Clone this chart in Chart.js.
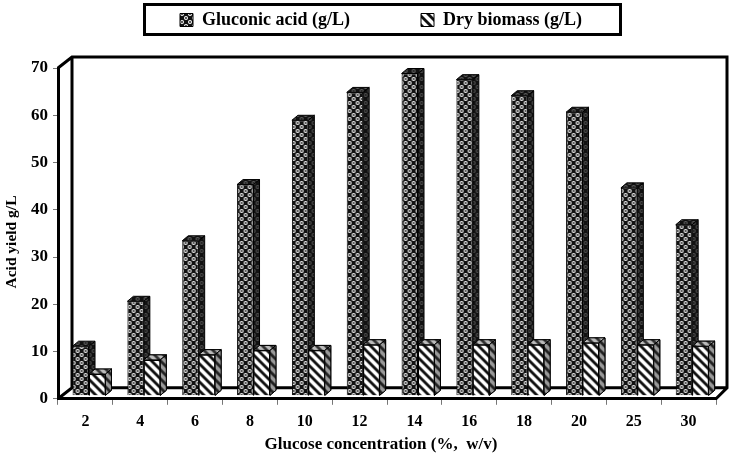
<!DOCTYPE html>
<html lang="en">
<head>
<meta charset="UTF-8">
<title>Acid yield vs glucose concentration</title>
<script src="https://cdn.jsdelivr.net/npm/chart.js@4/dist/chart.umd.min.js"></script>
<style>
    html, body { margin: 0; padding: 0; background: #fff; }
    #wrap { width: 731px; height: 457px; }
</style>
</head>
<body>
<div id="wrap"><canvas id="chart" width="731" height="457"></canvas></div>
<script>
const categories = ['2', '4', '6', '8', '10', '12', '14', '16', '18', '20', '25', '30'];
const gluconicAcid = [10.5, 20, 32.8, 44.7, 58.3, 64.2, 68.2, 66.9, 63.5, 60, 44, 36.2];
const dryBiomass = [4.6, 7.6, 8.7, 9.6, 9.6, 10.8, 10.8, 10.8, 10.8, 11.2, 10.8, 10.5];
const xTitle = 'Glucose concentration (%,  w/v)';
const yTitle = 'Acid yield g/L';

const FONT = '"Liberation Serif", "Times New Roman", serif';
// depth of the 3D box and of each bar
const WALL = { dx: 14, dy: 11 };
const BAR = { dx: 6, dy: 5, shiftX: 3.6, shiftY: -3 };
const LEGEND_GAP = 71;

function tile(w, h, paint) {
    const c = document.createElement('canvas');
    c.width = w;
    c.height = h;
    paint(c.getContext('2d'), w, h);
    return c;
}

function dots(ink, paper) {
    return document.createElement('canvas').getContext('2d').createPattern(tile(8, 8, (g, w, h) => {
        g.fillStyle = ink;
        g.fillRect(0, 0, w, h);
        [[2, 2], [6, 6]].forEach(p => {
            g.fillStyle = paper;
            g.beginPath();
            g.arc(p[0], p[1], 2, 0, Math.PI * 2);
            g.fill();
            g.fillStyle = ink;
            g.beginPath();
            g.arc(p[0], p[1], 0.9, 0, Math.PI * 2);
            g.fill();
        });
    }), 'repeat');
}

function stripes(ink, paper) {
    return document.createElement('canvas').getContext('2d').createPattern(tile(9, 9, (g, w, h) => {
        g.fillStyle = paper;
        g.fillRect(0, 0, w, h);
        g.strokeStyle = ink;
        g.lineWidth = 2.8;
        [-9, 0, 9].forEach(o => {
            g.beginPath();
            g.moveTo(o - 1, -1);
            g.lineTo(o + 10, 10);
            g.stroke();
        });
    }), 'repeat');
}

const faces = [
    { front: dots('#111', '#fff'), side: dots('#111', '#555'), top: dots('#111', '#666') },
    { front: stripes('#111', '#fff'), side: stripes('#222', '#999'), top: stripes('#333', '#bbb') }
];

// top and side faces for one dataset, drawn from its bar elements
function drawFaces(ctx, meta, f) {
    meta.data.forEach(el => {
        const p = el.getProps(['x', 'y', 'base', 'width'], true);
        const l = p.x - p.width / 2;
        const r = p.x + p.width / 2;
        ctx.strokeStyle = '#000';
        ctx.lineWidth = 1;
        ctx.beginPath();
        ctx.moveTo(l, p.y);
        ctx.lineTo(l + BAR.dx, p.y - BAR.dy);
        ctx.lineTo(r + BAR.dx, p.y - BAR.dy);
        ctx.lineTo(r, p.y);
        ctx.closePath();
        ctx.fillStyle = f.top;
        ctx.fill();
        ctx.stroke();
        ctx.beginPath();
        ctx.moveTo(r, p.y);
        ctx.lineTo(r + BAR.dx, p.y - BAR.dy);
        ctx.lineTo(r + BAR.dx, p.base - BAR.dy);
        ctx.lineTo(r, p.base);
        ctx.closePath();
        ctx.fillStyle = f.side;
        ctx.fill();
        ctx.stroke();
    });
}

const box3d = {
    id: 'box3d',
    beforeLayout(chart) {
        // the item gap also inflates the legend height, so pin the height
        const lg = chart.legend;
        if (!lg.pinned) {
            const fit = lg.fit;
            lg.fit = function () {
                fit.call(this);
                this.height = 60;
            };
            lg.pinned = true;
        }
    },
    afterLayout(chart) {
        const lg = chart.legend;
        lg.left += 10;
        lg.right += 10;
        lg.top = 11 - LEGEND_GAP;
    },
    beforeDatasetsDraw(chart) {
        const { ctx, chartArea: a } = chart;
        ctx.save();
        ctx.strokeStyle = '#000';
        ctx.lineWidth = 3;
        ctx.lineJoin = 'miter';
        ctx.beginPath();
        ctx.moveTo(a.left, a.top);
        ctx.lineTo(a.left + WALL.dx, a.top - WALL.dy);
        ctx.lineTo(a.right + WALL.dx - 3, a.top - WALL.dy);
        ctx.lineTo(a.right + WALL.dx - 3, a.bottom - WALL.dy);
        ctx.lineTo(a.right, a.bottom);
        ctx.moveTo(a.left, a.bottom);
        ctx.lineTo(a.left + WALL.dx, a.bottom - WALL.dy);
        ctx.lineTo(a.right + WALL.dx - 3, a.bottom - WALL.dy);
        ctx.moveTo(a.left + WALL.dx, a.top - WALL.dy);
        ctx.lineTo(a.left + WALL.dx, a.bottom - WALL.dy);
        ctx.stroke();
        ctx.restore();
    },
    beforeDatasetDraw(chart) {
        chart.ctx.save();
        chart.ctx.translate(BAR.shiftX, BAR.shiftY);
    },
    afterDatasetDraw(chart, args) {
        drawFaces(chart.ctx, args.meta, faces[args.index]);
        chart.ctx.restore();
    },
    afterDatasetsDraw(chart) {
        // Chart.js paints the first dataset last; biomass has to end up in front
        const ctx = chart.ctx;
        const meta = chart.getDatasetMeta(1);
        ctx.save();
        ctx.translate(BAR.shiftX, BAR.shiftY);
        meta.controller.draw();
        drawFaces(ctx, meta, faces[1]);
        ctx.restore();
    },
    afterDraw(chart) {
        const ctx = chart.ctx;
        ctx.save();
        // frame around the legend
        ctx.strokeStyle = '#000';
        ctx.lineWidth = 3;
        ctx.strokeRect(144.5, 4.5, 476, 30);
        // axis titles sit off-centre in the reference, so they are placed by hand
        ctx.fillStyle = '#000';
        ctx.textAlign = 'center';
        ctx.textBaseline = 'middle';
        ctx.font = 'bold 17px ' + FONT;
        ctx.fillText(xTitle, 381, 445);
        ctx.translate(12, 242);
        ctx.rotate(-Math.PI / 2);
        ctx.font = 'bold 15.5px ' + FONT;
        ctx.fillText(yTitle, 0, 0);
        ctx.restore();
    }
};

new Chart(document.getElementById('chart'), {
    type: 'bar',
    data: {
        labels: categories,
        datasets: [
            { label: 'Gluconic acid (g/L)', data: gluconicAcid, backgroundColor: faces[0].front, borderColor: '#000', borderWidth: 1 },
            { label: 'Dry biomass (g/L)', data: dryBiomass, backgroundColor: faces[1].front, borderColor: '#000', borderWidth: 1 }
        ]
    },
    options: {
        responsive: false,
        animation: false,
        events: [],
        layout: { padding: { left: 26, right: 15, top: 8, bottom: 19 } },
        datasets: { bar: { categoryPercentage: 0.6, barPercentage: 1 } },
        plugins: {
            tooltip: { enabled: false },
            legend: {
                position: 'top',
                labels: {
                    color: '#000',
                    font: { family: FONT, size: 18, weight: 'bold' },
                    boxWidth: 13,
                    boxHeight: 13,
                    padding: LEGEND_GAP
                }
            }
        },
        scales: {
            x: {
                grid: { drawOnChartArea: false, offset: true, tickLength: 6, tickColor: '#777', tickWidth: 1 },
                border: { color: '#000', width: 3 },
                ticks: { color: '#000', padding: 7, font: { family: FONT, size: 16, weight: 'bold' } }
            },
            y: {
                min: 0,
                max: 70,
                grid: { drawOnChartArea: false, tickLength: 5, tickColor: '#777', tickWidth: 1 },
                border: { color: '#000', width: 3 },
                ticks: { stepSize: 10, color: '#000', padding: 5, font: { family: FONT, size: 17, weight: 'bold' } }
            }
        }
    },
    plugins: [box3d]
});
</script>
</body>
</html>
